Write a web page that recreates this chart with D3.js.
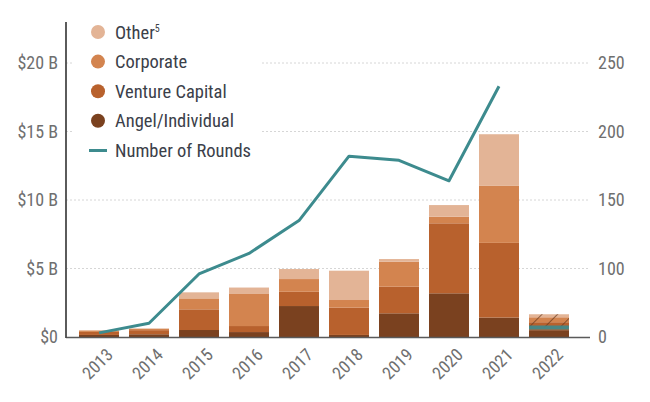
<!DOCTYPE html>
<html>
<head>
<meta charset="utf-8">
<script src="https://cdn.jsdelivr.net/npm/d3@7/dist/d3.min.js"></script>
<style>
  html, body { margin: 0; padding: 0; background: #fff; }
  svg { display: block; }
  text { font-family: 'Roboto Condensed', 'Liberation Sans Narrow', 'DejaVu Sans Condensed', 'Roboto', sans-serif; }
</style>
</head>
<body>
<svg id="chart" width="650" height="402"></svg>
<script>
// ---- data ----
const years = ['2013','2014','2015','2016','2017','2018','2019','2020','2021','2022'];
const angel     = [0.15, 0.20, 0.51, 0.36, 2.26, 0.15, 1.73, 3.19, 1.42, 0.50];
const venture   = [0.22, 0.30, 1.51, 0.44, 1.04, 1.99, 1.94, 5.11, 5.45, 0.58];
const corporate = [0.10, 0.10, 0.80, 2.34, 0.93, 0.56, 1.82, 0.48, 4.16, 0.36];
const other     = [0.04, 0.03, 0.44, 0.47, 0.73, 2.14, 0.20, 0.85, 3.77, 0.22];
const roundYears = ['2013','2014','2015','2016','2017','2018','2019','2020','2021'];
const rounds     = [6, 20, 92, 111, 135, 182, 179, 164, 233];
const rounds2022 = 14;
const leftTicks  = [0, 5, 10, 15, 20];
const leftLabels = ['$0', '$5 B', '$10 B', '$15 B', '$20 B'];
const rightTicks = [0, 100, 150, 200, 250];
const seriesNames = ['Angel/Individual', 'Venture Capital', 'Corporate', 'Other'];

// ---- layout ----
const svg = d3.select('#chart');
const x0 = 66, xEnd = 590, yBase = 337, yTop = 63;
const colors = { 'Angel/Individual': '#7a411f', 'Venture Capital': '#b8612d', 'Corporate': '#d3844f', 'Other': '#e3b496' };
const teal = '#3d8b8e';

const x = d3.scaleBand().domain(years).range([x0, x0 + 516]).paddingInner(0.2).paddingOuter(0.26);
const yL = d3.scaleLinear().domain([0, 20]).range([yBase, yTop]);
const yR = d3.scaleLinear().domain([0, 100, 250]).range([yL(0), yL(5), yL(20)]);

// pattern for 2022 hatch
const defs = svg.append('defs');
const pat = defs.append('pattern').attr('id', 'hatch').attr('patternUnits', 'userSpaceOnUse')
  .attr('width', 11).attr('height', 11).attr('patternTransform', 'rotate(45)');
pat.append('line').attr('x1', 0).attr('y1', 0).attr('x2', 0).attr('y2', 11)
  .attr('stroke', '#6a3a1e').attr('stroke-width', 1.8);

// gridlines
svg.append('g').selectAll('line').data(leftTicks.slice(1)).join('line')
  .attr('x1', x0).attr('x2', xEnd).attr('y1', d => yL(d)).attr('y2', d => yL(d))
  .attr('stroke', '#d6d6d6').attr('stroke-width', 1).attr('stroke-dasharray', '2,2');

// stacked bars
const table = years.map((yr, i) => ({ year: yr, 'Angel/Individual': angel[i], 'Venture Capital': venture[i], 'Corporate': corporate[i], 'Other': other[i] }));
const stack = d3.stack().keys(seriesNames)(table);
svg.append('g').selectAll('g').data(stack).join('g')
  .attr('fill', d => colors[d.key])
  .selectAll('rect').data(d => d).join('rect')
  .attr('x', d => x(d.data.year)).attr('width', x.bandwidth())
  .attr('y', d => yL(d[1])).attr('height', d => yL(d[0]) - yL(d[1]));

// 2022 hatch overlay and rounds marker
const i22 = years.indexOf('2022');
const top22 = angel[i22] + venture[i22] + corporate[i22] + other[i22];
svg.append('rect').attr('x', x('2022')).attr('width', x.bandwidth())
  .attr('y', yL(top22)).attr('height', yR(rounds2022) - yL(top22))
  .attr('fill', 'url(#hatch)').attr('opacity', 0.8);
svg.append('line').attr('x1', x('2022')).attr('x2', x('2022') + x.bandwidth())
  .attr('y1', yR(rounds2022)).attr('y2', yR(rounds2022))
  .attr('stroke', teal).attr('stroke-width', 4).attr('opacity', 0.9);

// axes lines
svg.append('line').attr('x1', x0).attr('x2', xEnd).attr('y1', yBase + 0.5).attr('y2', yBase + 0.5)
  .attr('stroke', '#5a5a5a').attr('stroke-width', 1.5);
svg.append('line').attr('x1', x0).attr('x2', x0).attr('y1', 22).attr('y2', yBase + 1)
  .attr('stroke', '#4a4a4a').attr('stroke-width', 1.8);

// line
const line = d3.line().x(d => x(d.year) + x.bandwidth() / 2).y(d => yR(d.v));
svg.append('path').datum(roundYears.map((yr, i) => ({ year: yr, v: rounds[i] })))
  .attr('d', line).attr('fill', 'none').attr('stroke', teal).attr('stroke-width', 3)
  .attr('stroke-linejoin', 'round');

// left axis labels
const axisL = d3.axisLeft(yL).tickValues(leftTicks).tickFormat((d, i) => leftLabels[i]).tickSize(0).tickPadding(8);
const gL = svg.append('g').attr('transform', `translate(${x0},0)`).call(axisL);
gL.select('.domain').remove();
gL.selectAll('text').attr('fill', '#6f6f6f').style('font-size', '18px');

// right axis labels
const axisR = d3.axisRight(yR).tickValues(rightTicks).tickSize(0).tickPadding(8);
const gR = svg.append('g').attr('transform', `translate(${xEnd},0)`).call(axisR);
gR.select('.domain').remove();
gR.selectAll('text').attr('fill', '#6f6f6f').style('font-size', '18px');

// x axis labels
const axisX = d3.axisBottom(x).tickSize(0).tickPadding(0);
const gX = svg.append('g').attr('transform', `translate(0,${yBase})`).call(axisX);
gX.select('.domain').remove();
gX.selectAll('text').attr('fill', '#6f6f6f').style('font-size', '17.5px')
  .attr('text-anchor', 'end').attr('dy', 0).attr('y', 0)
  .attr('transform', 'translate(15,19) rotate(-45)');

// legend
const lg = svg.append('g');
lg.append('rect').attr('x', 72).attr('y', 16).attr('width', 190).attr('height', 150).attr('fill', '#fff');
const legendItems = ['Other', 'Corporate', 'Venture Capital', 'Angel/Individual'];
legendItems.forEach((name, i) => {
  const cy = 32 + i * 29.6;
  lg.append('circle').attr('cx', 98).attr('cy', cy).attr('r', 7).attr('fill', colors[name]);
  const t = lg.append('text').attr('x', 115).attr('y', cy + 6.5).attr('fill', '#3b4049').style('font-size', '18.5px').text(name);
  if (name === 'Other') t.append('tspan').attr('dy', -7).style('font-size', '10px').text('5');
});
lg.append('line').attr('x1', 89).attr('x2', 107).attr('y1', 150.5).attr('y2', 150.5).attr('stroke', teal).attr('stroke-width', 3);
lg.append('text').attr('x', 115).attr('y', 157).attr('fill', '#3b4049').style('font-size', '18.5px').text('Number of Rounds');
</script>
</body>
</html>
